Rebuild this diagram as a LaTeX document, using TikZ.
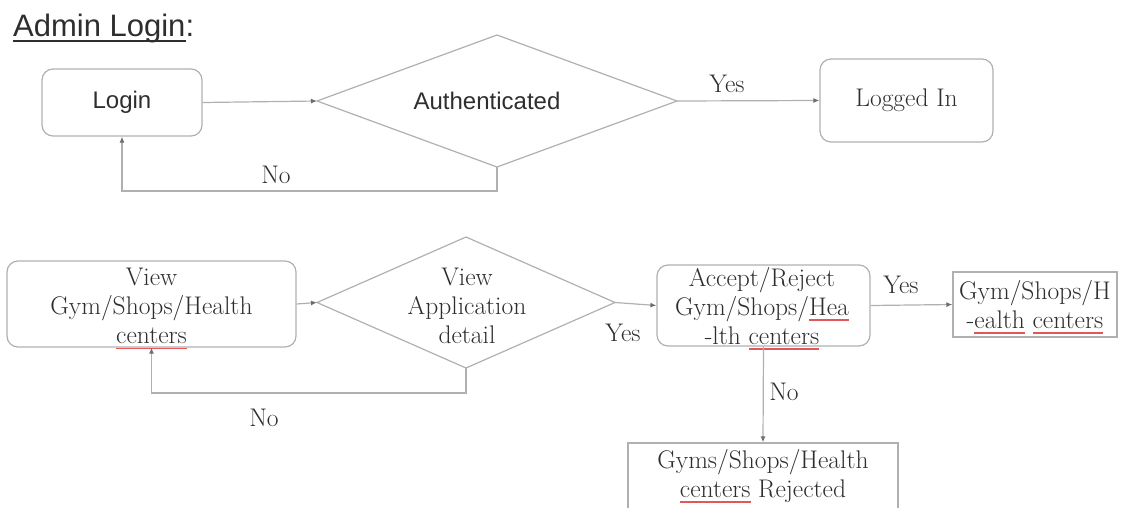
\documentclass[tikz,border=0pt]{standalone}
\usepackage{fontspec}
\setsansfont{Liberation Sans}
\usetikzlibrary{arrows.meta}

\definecolor{ink}{HTML}{2E2E2E}
\definecolor{edge}{HTML}{B0B0B0}
\definecolor{spell}{HTML}{E05858}

% a word with a thin rule under it
\newsavebox\markbox
\newcommand\rulebelow[4]{\leavevmode\sbox\markbox{#4}%
  \usebox\markbox\llap{\hbox{\textcolor{#1}{\rule[#3]{\wd\markbox}{#2}}}}}
\newcommand\spellmark[1]{\rulebelow{spell}{1.4pt}{-5.5pt}{#1}}

\begin{document}
\begin{tikzpicture}[x=1pt,y=-1pt,
  serif/.style={font=\fontsize{25.5}{29}\selectfont},
  sans/.style={font=\sffamily\fontsize{24}{29}\selectfont},
  box/.style={draw=edge,line width=1.2pt,rounded corners=11pt,align=center,text=ink,inner sep=0pt},
  plainbox/.style={draw=edge,line width=1.2pt,align=center,text=ink,inner sep=0pt},
  frame/.style={inner sep=0pt,outer sep=0pt},
  rim/.style={draw=edge,line width=1.2pt,line join=miter},
  words/.style={text=ink,align=center,inner sep=0pt},
  lbl/.style={text=ink,serif,inner sep=0pt},
  flow/.style={draw=edge,line width=1.2pt,-{Latex[length=6pt,width=5pt,color=ink!70]}}
]
\useasboundingbox (0,0) rectangle (1128,507);
\clip (0,0) rectangle (1128,507);

% heading
\node[anchor=base west,text=ink,font=\sffamily\fontsize{31}{36}\selectfont,inner sep=0pt]
  (title) at (13,36) {\rulebelow{ink}{1.6pt}{-5.5pt}{Admin Login}:};

% admin login flow
\node[box,sans,minimum width=160pt,minimum height=67pt] (login) at (122,102.5) {Login};
\node[frame,minimum width=360pt,minimum height=132pt] (auth) at (497,101) {};
\draw[rim] (auth.west) -- (auth.north) -- (auth.east) -- (auth.south) -- cycle;
\node[words,sans] (authtext) at (487,101) {Authenticated};
\node[box,serif,minimum width=173pt,minimum height=83pt] (logged) at (906.5,100.5) {Logged In};

\draw[flow] (login.east) -- (auth.west);
\draw[flow] (auth.east) -- (logged.west);
\draw[flow] (auth.south) -- ++(0,24) -| (login.south);
\node[lbl] (yes1) at (727,84) {Yes};
\node[lbl] (no1) at (276,175) {No};

% application review flow
\node[box,minimum width=289pt,minimum height=86pt] (view) at (151.5,304) {};
\node[words,serif] (viewtext) at (151.5,308.5) {View\\Gym/Shops/Health\\\spellmark{centers}};
\node[frame,minimum width=298pt,minimum height=131pt] (app) at (466,302.5) {};
\draw[rim] (app.west) -- (app.north) -- (app.east) -- (app.south) -- cycle;
\node[words,serif] (apptext) at (467,305.5) {View\\Application\\detail};
\node[box,minimum width=213pt,minimum height=81pt] (accept) at (763.5,305.5) {};
\node[words,serif] (accepttext) at (762,308.5)
  {Accept/Reject\\Gym/Shops/\spellmark{Hea}\\-lth \spellmark{centers}};
\node[plainbox,minimum width=164pt,minimum height=65pt] (approved) at (1035,304.5) {};
\node[words,serif] (approvedtext) at (1035,307)
  {Gym/Shops/H\\-\spellmark{ealth} \spellmark{centers}};
\node[plainbox,minimum width=270pt,minimum height=66pt] (rejected) at (763,476) {};
\node[words,serif] (rejectedtext) at (763,476)
  {Gyms/Shops/Health\\\spellmark{centers} Rejected};

\draw[flow] (view.east) -- (app.west);
\draw[flow] (app.east) -- (accept.west);
\draw[flow] (accept.east) -- (approved.west);
\draw[flow] (accept.south) -- (rejected.north);
\draw[flow] (app.south) -- ++(0,25) -| (view.south);
\node[lbl] (yes2) at (623,333) {Yes};
\node[lbl] (yes3) at (901,285) {Yes};
\node[lbl] (no2) at (784,392) {No};
\node[lbl] (no3) at (264,418) {No};
\end{tikzpicture}
\end{document}
